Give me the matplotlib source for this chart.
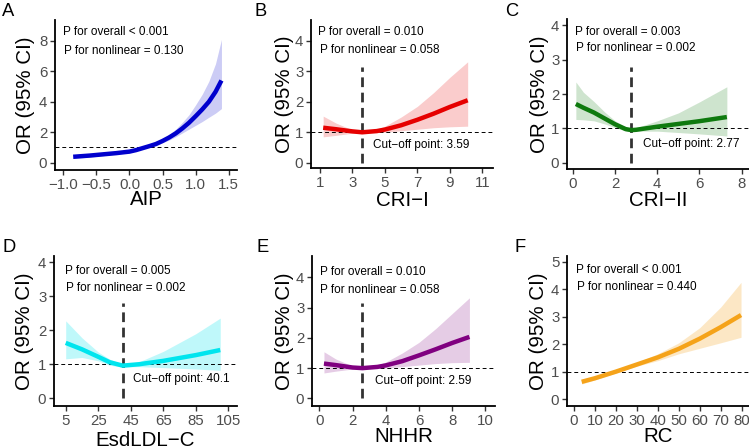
import matplotlib
matplotlib.use("Agg")
import matplotlib.pyplot as plt

plt.rcParams['font.family'] = ['Liberation Sans', 'DejaVu Sans']

# ---- data ----
# A: AIP
aip_x = [-0.85, -0.6, -0.4, -0.2, 0.0, 0.1, 0.2, 0.3, 0.4, 0.5, 0.6, 0.7, 0.8, 0.9, 1.0, 1.1, 1.2, 1.3, 1.39]
aip_or = [0.38, 0.46, 0.54, 0.62, 0.72, 0.82, 0.95, 1.08, 1.22, 1.42, 1.65, 1.92, 2.25, 2.62, 3.05, 3.50, 4.00, 4.65, 5.40]
aip_lo = [0.27, 0.36, 0.45, 0.55, 0.65, 0.76, 0.90, 1.02, 1.13, 1.30, 1.48, 1.70, 1.95, 2.20, 2.45, 2.70, 2.98, 3.25, 3.55]
aip_hi = [0.52, 0.57, 0.63, 0.69, 0.80, 0.88, 1.00, 1.14, 1.30, 1.55, 1.85, 2.20, 2.65, 3.15, 3.80, 4.50, 5.35, 6.50, 8.10]

# B: CRI-I
cri1_x = [1.2, 2.0, 3.0, 3.6, 4.5, 5.0, 6.0, 7.0, 8.0, 9.0, 10.1]
cri1_or = [1.15, 1.10, 1.03, 1.00, 1.04, 1.09, 1.23, 1.41, 1.61, 1.83, 2.05]
cri1_lo = [0.85, 0.90, 0.97, 0.98, 0.99, 1.00, 1.05, 1.10, 1.15, 1.18, 1.20]
cri1_hi = [1.53, 1.30, 1.08, 1.03, 1.10, 1.20, 1.50, 1.85, 2.30, 2.80, 3.31]

# C: CRI-II
cri2_x = [0.14, 0.5, 1.0, 1.5, 2.0, 2.5, 2.77, 3.0, 4.0, 5.0, 6.0, 7.3]
cri2_or = [1.71, 1.60, 1.46, 1.29, 1.12, 0.98, 0.95, 0.96, 1.05, 1.13, 1.21, 1.33]
cri2_lo = [1.26, 1.25, 1.22, 1.13, 1.02, 0.93, 0.91, 0.92, 0.92, 0.88, 0.84, 0.78]
cri2_hi = [2.35, 2.05, 1.78, 1.48, 1.22, 1.04, 1.00, 1.02, 1.22, 1.45, 1.77, 2.21]

# D: EsdLDL-C
ldl_x = [5, 15, 25, 32, 40, 50, 65, 85, 100]
ldl_or = [1.63, 1.44, 1.22, 1.06, 0.96, 1.00, 1.10, 1.27, 1.42]
ldl_lo = [1.16, 1.20, 1.10, 0.97, 0.92, 0.93, 0.90, 0.86, 0.82]
ldl_hi = [2.28, 1.78, 1.36, 1.15, 1.00, 1.07, 1.38, 1.90, 2.36]

# E: NHHR
nhhr_x = [0.28, 1.0, 2.0, 2.6, 3.5, 4.0, 5.0, 6.0, 7.0, 8.0, 9.04]
nhhr_or = [1.15, 1.10, 1.02, 1.00, 1.04, 1.09, 1.23, 1.42, 1.62, 1.83, 2.03]
nhhr_lo = [0.84, 0.90, 0.97, 0.98, 0.99, 1.00, 1.05, 1.10, 1.15, 1.18, 1.19]
nhhr_hi = [1.54, 1.30, 1.07, 1.03, 1.10, 1.20, 1.50, 1.85, 2.30, 2.80, 3.32]

# F: RC
rc_x = [3.7, 10, 20, 30, 40, 50, 60, 70, 79.7]
rc_or = [0.63, 0.76, 1.00, 1.26, 1.52, 1.83, 2.20, 2.62, 3.06]
rc_lo = [0.55, 0.70, 0.95, 1.20, 1.40, 1.65, 1.85, 2.05, 2.25]
rc_hi = [0.72, 0.83, 1.05, 1.33, 1.65, 2.05, 2.60, 3.35, 4.25]

panels = [
    dict(letter="A", x=aip_x, y=aip_or, lo=aip_lo, hi=aip_hi, color="#0000CD", alpha=0.2,
         xlabel="AIP", xticks=[-1.0, -0.5, 0.0, 0.5, 1.0, 1.5], yticks=[0, 2, 4, 6, 8],
         xlim=(-1.125, 1.625), ylim=(-0.49, 9.38), box=(55, 237, 20, 170),
         p1="P for overall < 0.001", p2="P for nonlinear = 0.130",
         tpos=((0.044, 0.92), (0.05, 0.795)), cut=None, lx=2, ly=12, xpad=-1.2, ypad=3.0),
    dict(letter="B", x=cri1_x, y=cri1_or, lo=cri1_lo, hi=cri1_hi, color="#E60000", alpha=0.2,
         xlabel="CRI\u2212I", xticks=[1, 3, 5, 7, 9, 11], yticks=[0, 1, 2, 3, 4],
         xlim=(0.45, 11.66), ylim=(-0.17, 4.68), box=(311, 493, 20, 168),
         p1="P for overall = 0.010", p2="P for nonlinear = 0.058",
         tpos=((0.04, 0.917), (0.05, 0.797)), cut=(3.59, 3.15, "Cut\u2212off point: 3.59", 0.342, 0.155),
         lx=255, ly=12, xpad=0.9, ypad=0.5),
    dict(letter="C", x=cri2_x, y=cri2_or, lo=cri2_lo, hi=cri2_hi, color="#0E7A0E", alpha=0.2,
         xlabel="CRI\u2212II", xticks=[0, 2, 4, 6, 8], yticks=[0, 1, 2, 3, 4],
         xlim=(-0.28, 8.35), ylim=(-0.18, 4.18), box=(567, 749, 19, 169),
         p1="P for overall = 0.003", p2="P for nonlinear = 0.002",
         tpos=((0.044, 0.911), (0.051, 0.805)), cut=(2.77, 2.79, "Cut\u2212off point: 2.77", 0.416, 0.165),
         lx=505, ly=12, xpad=0.2, ypad=1.4),
    dict(letter="D", x=ldl_x, y=ldl_or, lo=ldl_lo, hi=ldl_hi, color="#00E5EE", alpha=0.25,
         xlabel="EsdLDL\u2212C", xticks=[5, 25, 45, 65, 85, 105], yticks=[0, 1, 2, 3, 4],
         xlim=(-2.2, 110.3), ylim=(-0.23, 4.19), box=(54, 237, 256, 406),
         p1="P for overall = 0.005", p2="P for nonlinear = 0.002",
         tpos=((0.06, 0.902), (0.066, 0.785)), cut=(40.1, 2.81, "Cut\u2212off point: 40.1", 0.433, 0.18),
         lx=2, ly=247, xpad=2.6, ypad=2.5),
    dict(letter="E", x=nhhr_x, y=nhhr_or, lo=nhhr_lo, hi=nhhr_hi, color="#800080", alpha=0.2,
         xlabel="NHHR", xticks=[0, 2, 4, 6, 8, 10], yticks=[0, 1, 2, 3, 4],
         xlim=(-0.44, 10.58), ylim=(-0.25, 4.7), box=(312, 495, 256, 406),
         p1="P for overall = 0.010", p2="P for nonlinear = 0.058",
         tpos=((0.042, 0.891), (0.045, 0.775)), cut=(2.59, 3.15, "Cut\u2212off point: 2.59", 0.346, 0.169),
         lx=256, ly=247, xpad=-0.6, ypad=1.3),
    dict(letter="F", x=rc_x, y=rc_or, lo=rc_lo, hi=rc_hi, color="#F5A31A", alpha=0.25,
         xlabel="RC", xticks=[0, 10, 20, 30, 40, 50, 60, 70, 80], yticks=[0, 1, 2, 3, 4, 5],
         xlim=(-3.3, 83.5), ylim=(-0.25, 5.21), box=(567, 749, 256, 406),
         p1="P for overall < 0.001", p2="P for nonlinear = 0.440",
         tpos=((0.05, 0.909), (0.055, 0.791)), cut=None, lx=515, ly=247, xpad=-0.3, ypad=2.3),
]

W, H = 749, 448
fig = plt.figure(figsize=(W / 100, H / 100), dpi=100)

for p in panels:
    l, r, t, b = p["box"]
    ax = fig.add_axes([l / W, (H - b) / H, (r - l) / W, (b - t) / H])
    ax.fill_between(p["x"], p["lo"], p["hi"], color=p["color"], alpha=p["alpha"], lw=0)
    ax.axhline(1, color="black", lw=0.7, ls=(0, (4, 3)))
    if p["cut"] is not None:
        cx, ctop, ctext, tx, ty = p["cut"]
        ax.plot([cx, cx], [0, ctop], color="#333333", lw=2, ls=(0, (3.5, 2)))
        ax.text(tx, ty, ctext, transform=ax.transAxes, fontsize=8.5, ha="left", va="center")
    ax.plot(p["x"], p["y"], color=p["color"], lw=3.2, solid_capstyle="butt", solid_joinstyle="round")
    ax.text(p["tpos"][0][0], p["tpos"][0][1], p["p1"], transform=ax.transAxes,
            fontsize=8.5, ha="left", va="center")
    ax.text(p["tpos"][1][0], p["tpos"][1][1], p["p2"], transform=ax.transAxes,
            fontsize=8.5, ha="left", va="center")

    ax.set_xlim(*p["xlim"])
    ax.set_ylim(*p["ylim"])
    ax.set_xticks(p["xticks"])
    ax.set_yticks(p["yticks"])
    if p["letter"] == "A":
        ax.set_xticklabels(["\u22121.0", "\u22120.5", "0.0", "0.5", "1.0", "1.5"])
    ax.spines["top"].set_visible(False)
    ax.spines["right"].set_visible(False)
    for s in ("left", "bottom"):
        ax.spines[s].set_linewidth(1.3)
    ax.tick_params(length=3.5, width=1, color="#333333", labelcolor="#4D4D4D",
                   labelsize=10.8, pad=2)
    ax.set_xlabel(p["xlabel"], fontsize=14.8, labelpad=p["xpad"])
    ax.set_ylabel("OR (95% CI)", fontsize=14.8, labelpad=p["ypad"])

    fig.text(p["lx"] / W, 1 - p["ly"] / H, p["letter"], fontsize=13.2, ha="left", va="center")

fig.savefig("out.png", dpi=100)
